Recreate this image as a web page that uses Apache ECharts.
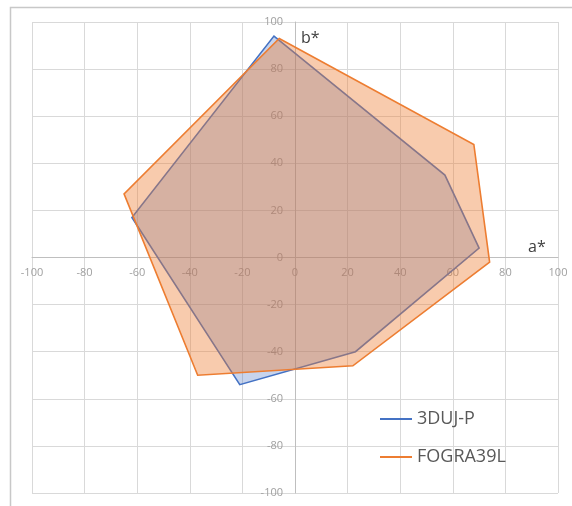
<!DOCTYPE html>
<html>
<head>
<meta charset="utf-8">
<script src="https://cdn.jsdelivr.net/npm/echarts@6/dist/echarts.min.js"></script>
<style>
html,body{margin:0;padding:0;background:#fff;}
#chart{width:572px;height:506px;}
</style>
</head>
<body>
<div id="chart"></div>
<script>
// Gamut vertices (a*, b*)
var seriesNames = ['3DUJ-P', 'FOGRA39L'];
var dujA = [-8, 57, 70, 23, -21, -62];
var dujB = [94, 35, 4, -40, -54, 17];
var fograA = [-6, 68, 74, 22, -37, -65];
var fograB = [93, 48, -2, -46, -50, 27];
var axisTicks = [-100, -80, -60, -40, -20, 0, 20, 40, 60, 80, 100];

function toPoints(a, b) {
  return a.map(function (v, i) { return [v, b[i]]; });
}

var colors = ['#4472C4', '#ED7D31'];
var fills = ['rgba(68,114,196,0.3)', 'rgba(237,125,49,0.4)'];

function polySeries(name, pts, idx) {
  return {
    name: name,
    type: 'custom',
    coordinateSystem: 'cartesian2d',
    itemStyle: { color: colors[idx] },
    data: pts,
    encode: { x: 0, y: 1 },
    z: 2 + idx,
    renderItem: function (params, api) {
      if (params.dataIndex !== 0) return null;
      var coords = pts.map(function (p) { return api.coord(p); });
      return {
        type: 'polygon',
        shape: { points: coords },
        style: {
          fill: fills[idx],
          stroke: colors[idx],
          lineWidth: 1.6,
          lineJoin: 'miter'
        }
      };
    }
  };
}

var W = 572, H = 506;
var gridL = 32, gridR = 14, gridT = 22, gridB = 13;
var plotW = W - gridL - gridR, plotH = H - gridT - gridB;

var chart = echarts.init(document.getElementById('chart'));
var axisCommon = {
  type: 'value',
  min: axisTicks[0],
  max: axisTicks[axisTicks.length - 1],
  interval: 20,
  axisLine: { show: true, onZero: false, lineStyle: { color: '#BFBFBF', width: 1 } },
  axisTick: { show: false },
  splitLine: { show: true, lineStyle: { color: '#D9D9D9', width: 1 } },
  axisLabel: { color: '#A0A0A0', fontSize: 11, fontFamily: 'Open Sans' },
  nameTextStyle: { color: '#404040', fontSize: 16, fontFamily: 'Open Sans' }
};

chart.setOption({
  backgroundColor: '#fff',
  animation: false,
  graphic: [{
    type: 'rect',
    left: 8, top: 5,
    shape: { width: 620, height: 560 },
    style: { fill: 'none', stroke: '#C8C8C8', lineWidth: 1.5 },
    silent: true
  }],
  grid: { left: gridL, right: gridR, top: gridT, bottom: gridB, containLabel: false },
  xAxis: Object.assign({}, axisCommon, {
    position: 'bottom',
    offset: -plotH / 2,
    name: 'a*',
    nameLocation: 'end',
    nameGap: -30,
    axisLabel: Object.assign({}, axisCommon.axisLabel, { margin: 10 }),
    nameTextStyle: Object.assign({}, axisCommon.nameTextStyle, { align: 'left', verticalAlign: 'bottom', padding: [0, 0, 2, 0] })
  }),
  yAxis: Object.assign({}, axisCommon, {
    position: 'left',
    offset: -plotW / 2,
    name: 'b*',
    nameLocation: 'end',
    nameGap: -16,
    axisLabel: Object.assign({}, axisCommon.axisLabel, { margin: 12 }),
    nameTextStyle: Object.assign({}, axisCommon.nameTextStyle, { align: 'left', verticalAlign: 'middle', padding: [0, 0, 0, 6] })
  }),
  legend: {
    orient: 'vertical',
    left: 375,
    top: 405,
    itemWidth: 32,
    itemHeight: 2,
    itemGap: 20,
    icon: 'rect',
    textStyle: { color: '#595959', fontSize: 18, fontFamily: 'Open Sans' },
    data: seriesNames
  },
  series: [
    polySeries(seriesNames[0], toPoints(dujA, dujB), 0),
    polySeries(seriesNames[1], toPoints(fograA, fograB), 1)
  ]
});
</script>
</body>
</html>
